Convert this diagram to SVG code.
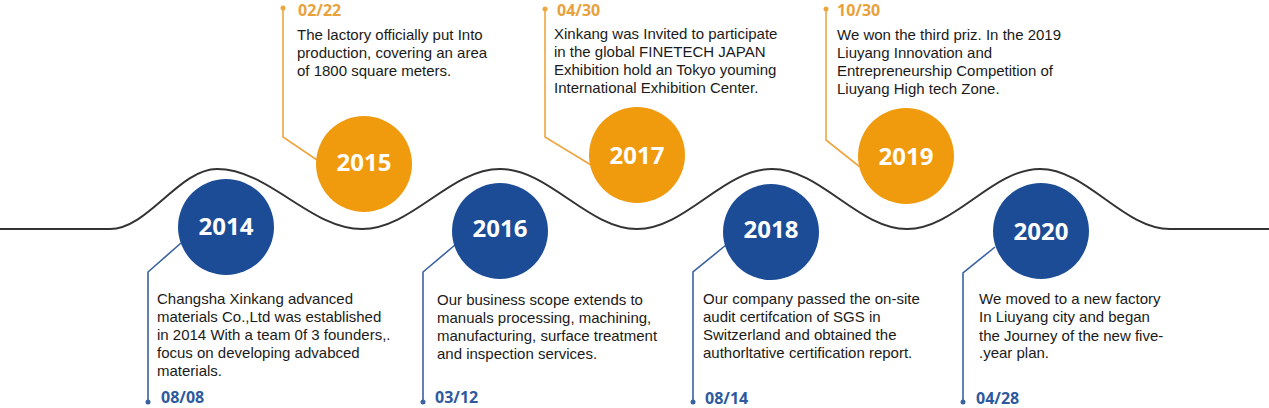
<svg xmlns="http://www.w3.org/2000/svg" width="1269" height="408" viewBox="0 0 1269 408">
<style>
.wave{fill:none;stroke:#333;stroke-width:2}
.co{fill:none;stroke:#EDA640;stroke-width:1.6}
.cb{fill:none;stroke:#3A62A0;stroke-width:1.6}
.do{fill:#EDA640}
.db{fill:#3A62A0}
.orange{fill:#F09A0E}
.blue{fill:#1C4C96}
.year{font-family:"Open Sans","Noto Sans",sans-serif;font-weight:700;font-size:24px;fill:#fff;text-anchor:middle}
.dateo{font-family:"Open Sans","Noto Sans",sans-serif;font-weight:700;font-size:16px;fill:#E9A13C}
.dateb{font-family:"Open Sans","Noto Sans",sans-serif;font-weight:700;font-size:16px;fill:#2D5A9E}
.desc{font-family:"Liberation Sans",Arial,sans-serif;font-size:15px;fill:#1a1a1a}
</style>
<rect width="1269" height="408" fill="#fff"/>
<g id="connectors">
<path class="wave" d="M0,229 L110,229 C148,229 179,169 217,169 C269,169 310,229 362,229 C412,229 450,169 500,169 C549,169 588,229 637,229 C686,229 723,169 772,169 C821,169 858,229 907,229 C955,229 992,169 1040,169 C1087,169 1123,229 1170,229 L1269,229"/>
<polyline class="co" points="283,8 283,137 320,162"/>
<polyline class="co" points="545,9 545,137 591,165"/>
<polyline class="co" points="826,9 826,140 860,167"/>
<polyline class="cb" points="181,243 148,272 148,402"/>
<polyline class="cb" points="455,245 423,272 423,402"/>
<polyline class="cb" points="726,245 693,272 693,402"/>
<polyline class="cb" points="995,247 963,273 963,402"/>
<circle class="do" cx="283" cy="8" r="2.5"/>
<circle class="do" cx="545" cy="9" r="2.5"/>
<circle class="do" cx="826" cy="9" r="2.5"/>
<circle class="db" cx="148" cy="402" r="2.5"/>
<circle class="db" cx="423" cy="402" r="2.5"/>
<circle class="db" cx="693" cy="402" r="2.5"/>
<circle class="db" cx="963" cy="402" r="2.5"/>
</g>
<g id="n2014">
<circle class="blue" cx="226" cy="227" r="48"/>
<text class="year" x="226" y="235">2014</text>
<text class="desc" x="157" y="304">Changsha Xinkang advanced</text>
<text class="desc" x="157" y="322">materials Co.,Ltd was established</text>
<text class="desc" x="157" y="340">in 2014 With a team 0f 3 founders,.</text>
<text class="desc" x="157" y="358">focus on developing advabced</text>
<text class="desc" x="157" y="376">materials.</text>
<text class="dateb" x="161" y="403">08/08</text>
</g>
<g id="n2015">
<circle class="orange" cx="364" cy="164" r="48"/>
<text class="year" x="364" y="171">2015</text>
<text class="dateo" x="298" y="16">02/22</text>
<text class="desc" x="297" y="40">The lactory officially put Into</text>
<text class="desc" x="297" y="58">production, covering an area</text>
<text class="desc" x="297" y="76">of 1800 square meters.</text>
</g>
<g id="n2016">
<circle class="blue" cx="500" cy="231" r="48"/>
<text class="year" x="500" y="237">2016</text>
<text class="desc" x="437" y="305">Our business scope extends to</text>
<text class="desc" x="437" y="323">manuals processing, machining,</text>
<text class="desc" x="437" y="341">manufacturing, surface treatment</text>
<text class="desc" x="437" y="359">and inspection services.</text>
<text class="dateb" x="435" y="403">03/12</text>
</g>
<g id="n2017">
<circle class="orange" cx="637" cy="155" r="48"/>
<text class="year" x="637" y="164">2017</text>
<text class="dateo" x="557" y="16">04/30</text>
<text class="desc" x="554" y="39">Xinkang was Invited to participate</text>
<text class="desc" x="554" y="57">in the global FINETECH JAPAN</text>
<text class="desc" x="554" y="75">Exhibition hold an Tokyo youming</text>
<text class="desc" x="554" y="93">International Exhibition Center.</text>
</g>
<g id="n2018">
<circle class="blue" cx="771" cy="232" r="48"/>
<text class="year" x="771" y="238">2018</text>
<text class="desc" x="703" y="304">Our company passed the on-site</text>
<text class="desc" x="703" y="322">audit certifcation of SGS in</text>
<text class="desc" x="703" y="340">Switzerland and obtained the</text>
<text class="desc" x="703" y="358">authorltative certification report.</text>
<text class="dateb" x="705" y="404">08/14</text>
</g>
<g id="n2019">
<circle class="orange" cx="906" cy="156" r="48"/>
<text class="year" x="906" y="165">2019</text>
<text class="dateo" x="837" y="16">10/30</text>
<text class="desc" x="837" y="40">We won the third priz. In the 2019</text>
<text class="desc" x="837" y="58">Liuyang Innovation and</text>
<text class="desc" x="837" y="76">Entrepreneurship Competition of</text>
<text class="desc" x="837" y="94">Liuyang High tech Zone.</text>
</g>
<g id="n2020">
<circle class="blue" cx="1041" cy="231" r="48"/>
<text class="year" x="1041" y="240">2020</text>
<text class="desc" x="979" y="304">We moved to a new factory</text>
<text class="desc" x="979" y="322">In Liuyang city and began</text>
<text class="desc" x="979" y="341">the Journey of the new five-</text>
<text class="desc" x="979" y="358">.year plan.</text>
<text class="dateb" x="976" y="404">04/28</text>
</g>
</svg>
